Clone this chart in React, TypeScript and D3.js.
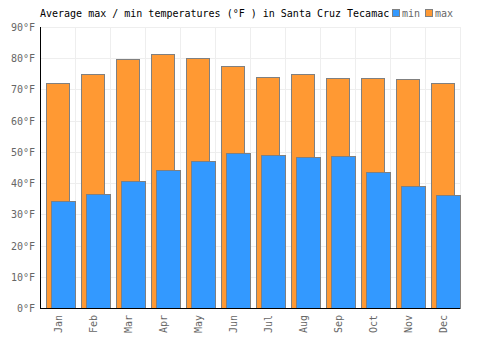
import React from 'react';
import * as d3 from 'd3';

const months = ['Jan', 'Feb', 'Mar', 'Apr', 'May', 'Jun', 'Jul', 'Aug', 'Sep', 'Oct', 'Nov', 'Dec'];
const maxTemps = [72.0, 75.1, 79.6, 81.2, 80.0, 77.4, 74.1, 74.8, 73.6, 73.6, 73.2, 72.0];
const minTemps = [34.2, 36.4, 40.6, 44.2, 47.0, 49.5, 48.9, 48.3, 48.6, 43.5, 39.0, 36.2];
const yTicks = [0, 10, 20, 30, 40, 50, 60, 70, 80, 90];

const title = 'Average max / min temperatures (°F ) in Santa Cruz Tecamac';
const font = '"DejaVu Sans Mono", monospace';

export default function App() {
  const width = 500;
  const height = 350;
  const margin = { top: 27, right: 40, bottom: 42, left: 40 };
  const innerW = width - margin.left - margin.right;
  const innerH = height - margin.top - margin.bottom;

  const x = d3.scaleBand<string>().domain(months).range([0, innerW]);
  const y = d3.scaleLinear().domain([0, 90]).range([innerH, 0]);
  const bw = x.bandwidth();

  return (
    <svg width={width} height={height} style={{ position: 'absolute', left: 0, top: 0 }}>
      <rect width={width} height={height} fill="#fff" />
      <text x={40} y={17} fontFamily={font} fontSize={10} fill="#000">{title}</text>
      {/* legend */}
      <rect x={392.5} y={9.5} width={7} height={7} fill="#3399ff" stroke="#808080" />
      <text x={402} y={17} fontFamily={font} fontSize={10} fill="#666">min</text>
      <rect x={425.5} y={9.5} width={7} height={7} fill="#ff9933" stroke="#808080" />
      <text x={435} y={17} fontFamily={font} fontSize={10} fill="#666">max</text>

      <g transform={`translate(${margin.left},${margin.top})`}>
        {/* grid */}
        {yTicks.map(t => (
          <line key={'gy' + t} x1={0} x2={innerW} y1={Math.round(y(t)) + 0.5} y2={Math.round(y(t)) + 0.5} stroke="#eeeeee" />
        ))}
        {months.map(m => (
          <line key={'gx' + m} x1={Math.round(x(m)! + bw) + 0.5} x2={Math.round(x(m)! + bw) + 0.5} y1={0} y2={innerH} stroke="#eeeeee" />
        ))}

        {/* max bars */}
        {months.map((m, i) => (
          <rect key={'max' + m} x={Math.round(x(m)! + 6) + 0.5} y={Math.round(y(maxTemps[i])) + 0.5}
            width={23} height={innerH - Math.round(y(maxTemps[i]))} fill="#ff9933" stroke="#808080" />
        ))}
        {/* min bars */}
        {months.map((m, i) => (
          <rect key={'min' + m} x={Math.round(x(m)! + 11) + 0.5} y={Math.round(y(minTemps[i])) + 0.5}
            width={24} height={innerH - Math.round(y(minTemps[i]))} fill="#3399ff" stroke="#808080" />
        ))}

        {/* axes */}
        <line x1={0.5} x2={0.5} y1={0} y2={innerH} stroke="#000" />
        <line x1={0} x2={innerW} y1={innerH + 0.5} y2={innerH + 0.5} stroke="#000" />

        {yTicks.map(t => (
          <text key={'yt' + t} x={-5} y={y(t) + 4} textAnchor="end" fontFamily={font} fontSize={10} fill="#666">{`${t}°F`}</text>
        ))}
        {months.map(m => (
          <text key={'xt' + m} transform={`translate(${x(m)! + bw / 2 + 4},${innerH + 7}) rotate(-90)`}
            textAnchor="end" fontFamily={font} fontSize={10} fill="#666">{m}</text>
        ))}
      </g>
    </svg>
  );
}
